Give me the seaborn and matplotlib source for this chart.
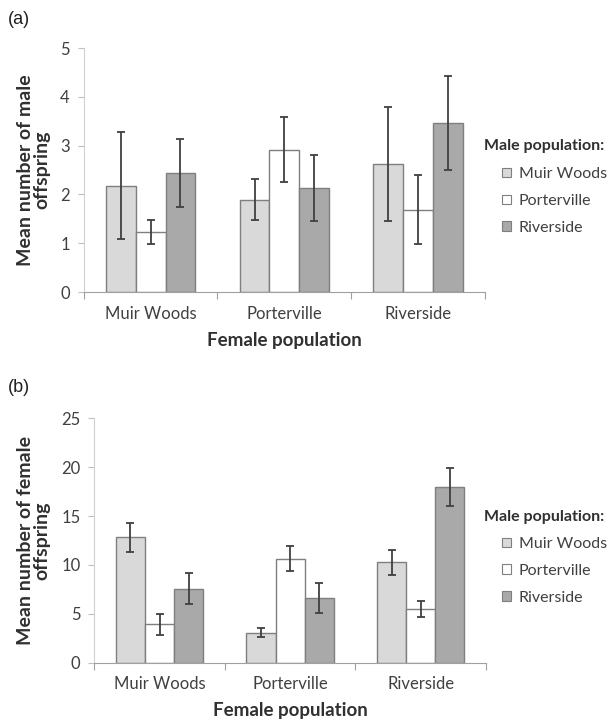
import matplotlib
matplotlib.use('Agg')
import matplotlib.pyplot as plt
import seaborn as sns
import pandas as pd

# data
female_pops = ['Muir Woods', 'Porterville', 'Riverside']
male_pops = ['Muir Woods', 'Porterville', 'Riverside']

# panel (a): mean number of male offspring, keys = male pop, lists = female pop
male_mean = {
    'Muir Woods':  [2.18, 1.89, 2.63],
    'Porterville': [1.23, 2.92, 1.69],
    'Riverside':   [2.44, 2.13, 3.46],
}
male_err = {
    'Muir Woods':  [1.09, 0.42, 1.17],
    'Porterville': [0.24, 0.67, 0.71],
    'Riverside':   [0.69, 0.68, 0.96],
}

# panel (b): mean number of female offspring
female_mean = {
    'Muir Woods':  [12.8, 3.05, 10.25],
    'Porterville': [3.9, 10.6, 5.45],
    'Riverside':   [7.55, 6.6, 18.0],
}
female_err = {
    'Muir Woods':  [1.44, 0.45, 1.28],
    'Porterville': [1.05, 1.28, 0.8],
    'Riverside':   [1.57, 1.55, 1.95],
}

bar_colors = ['#d9d9d9', '#ffffff', '#a9a9a9']

sns.set_style('white')
plt.rcParams['font.family'] = ['Lato', 'DejaVu Sans']


def to_long(means):
    rows = []
    for m in male_pops:
        for f, v in zip(female_pops, means[m]):
            rows.append({'Female': f, 'Male': m, 'Mean': v})
    return pd.DataFrame(rows)


def draw_panel(fig, rect, means, errs, ymax, ystep, ylabel, label_x,
               leg_x, leg_y, title_x, title_y, tag, tag_y):
    ax = fig.add_axes(rect)
    df = to_long(means)
    sns.barplot(data=df, x='Female', y='Mean', hue='Male', order=female_pops,
                hue_order=male_pops, palette=bar_colors, width=0.67,
                errorbar=None, edgecolor='#7f7f7f', linewidth=1.0,
                saturation=1, ax=ax)
    # error bars on top of each bar
    for cont, m in zip(ax.containers, male_pops):
        xs = [b.get_x() + b.get_width() / 2 for b in cont]
        ax.errorbar(xs, means[m], yerr=errs[m], fmt='none', ecolor='#404040',
                    elinewidth=1.3, capsize=3, capthick=1.3)

    ax.set_xlim(-0.5, 2.5)
    ax.set_ylim(0, ymax)
    ax.set_yticks(range(0, ymax + 1, ystep))
    ax.tick_params(axis='y', labelsize=12, colors='#404040', length=4,
                   left=True, width=0.8, color='#bfbfbf', pad=6)
    ax.tick_params(axis='x', labelsize=12, colors='#404040', length=0, pad=10)
    # category boundary ticks on x axis
    ax.set_xticks([-0.5, 0.5, 1.5, 2.5], minor=True)
    ax.tick_params(axis='x', which='minor', length=5, width=0.8,
                   color='#a0a0a0', bottom=True)
    for s in ['top', 'right']:
        ax.spines[s].set_visible(False)
    ax.spines['left'].set_color('#d0d0d0')
    ax.spines['bottom'].set_color('#a0a0a0')
    ax.set_xlabel('Female population', fontsize=13.5, fontweight='bold',
                  color='#303030', labelpad=7)
    ax.set_ylabel(ylabel, fontsize=14, fontweight='bold', color='#303030',
                  linespacing=0.95)
    ax.yaxis.set_label_coords(label_x, 0.5)

    # legend entries indented under a separate bold title
    handles, labels = ax.get_legend_handles_labels()
    leg = ax.legend(handles, labels, loc='center left',
                    bbox_to_anchor=(leg_x, leg_y), frameon=False, fontsize=11.5,
                    handlelength=0.55, handleheight=0.55, handletextpad=0.5,
                    labelspacing=0.8, borderaxespad=0, borderpad=0)
    for t in leg.get_texts():
        t.set_color('#404040')
    for h in leg.legend_handles:
        h.set_linewidth(0.8)
    ax.text(title_x, title_y, 'Male population:', transform=ax.transAxes,
            fontsize=11.5, fontweight='bold', color='#303030',
            ha='left', va='center')

    fig.text(0.012, tag_y, tag, fontsize=13, color='#202020',
             family='Liberation Sans', va='center')
    return ax


fig = plt.figure(figsize=(6.16, 7.21), dpi=100)

draw_panel(fig, [0.1359, 0.595, 0.6515, 0.3384], male_mean, male_err, 5, 1,
           'Mean number of male\noffspring', -0.084,
           1.042, 0.373, 0.9975, 0.598, '(a)', 0.9736)
draw_panel(fig, [0.1532, 0.0811, 0.6357, 0.3387], female_mean, female_err, 25, 5,
           'Mean number of female\noffspring', -0.113,
           1.041, 0.375, 0.995, 0.596, '(b)', 0.4619)

fig.savefig('out.png', dpi=100, facecolor='white')
